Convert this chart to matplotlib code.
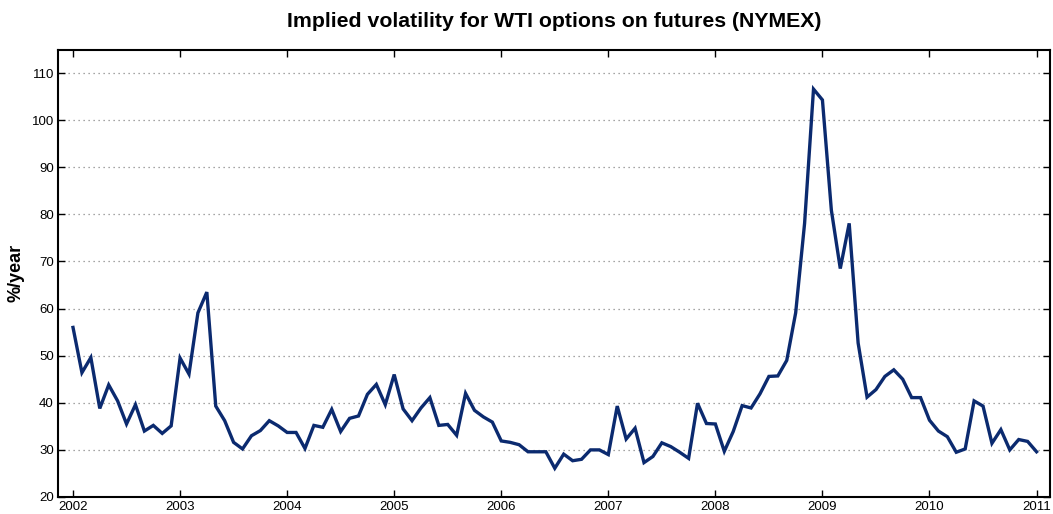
import matplotlib
matplotlib.use("Agg")
import matplotlib.pyplot as plt
import numpy as np

# monthly implied volatility, Jan 2002 .. Jan 2011 (%/year)
vol_2002 = [56.0, 46.4, 49.6, 38.8, 43.8, 40.4, 35.5, 39.6, 34.0, 35.2, 33.5, 35.1]
vol_2003 = [49.5, 46.1, 59.1, 63.5, 39.3, 36.2, 31.6, 30.2, 33.0, 34.1, 36.2, 35.1]
vol_2004 = [33.7, 33.7, 30.3, 35.2, 34.8, 38.6, 33.9, 36.7, 37.2, 41.8, 43.9, 39.6]
vol_2005 = [46.0, 38.7, 36.2, 38.9, 41.1, 35.2, 35.4, 33.1, 42.0, 38.4, 37.0, 35.9]
vol_2006 = [31.9, 31.6, 31.1, 29.6, 29.6, 29.6, 26.1, 29.1, 27.7, 28.0, 30.0, 30.0]
vol_2007 = [29.0, 39.3, 32.3, 34.6, 27.3, 28.6, 31.5, 30.7, 29.5, 28.2, 39.9, 35.6]
vol_2008 = [35.5, 29.7, 33.9, 39.4, 38.9, 41.9, 45.6, 45.7, 49.0, 59.1, 78.1, 106.6]
vol_2009 = [104.3, 80.9, 68.5, 78.1, 52.7, 41.2, 42.8, 45.6, 47.0, 45.0, 41.1, 41.1]
vol_2010 = [36.3, 34.0, 32.8, 29.5, 30.2, 40.4, 39.3, 31.4, 34.3, 30.0, 32.2, 31.8]
vol_2011 = [29.6]

vol = vol_2002 + vol_2003 + vol_2004 + vol_2005 + vol_2006 + vol_2007 + vol_2008 + vol_2009 + vol_2010 + vol_2011
t = 2002 + np.arange(len(vol)) / 12.0

years = list(range(2002, 2012))
yticks = list(range(20, 111, 10))

plt.rcParams["font.family"] = ["Liberation Sans", "DejaVu Sans"]

fig = plt.figure(figsize=(10.53, 5.14), dpi=100)
ax = fig.add_axes([0.0551, 0.0331, 0.9425, 0.8705])

ax.plot(t, vol, color="#0b2a6f", linewidth=2.4, solid_joinstyle="miter")

ax.set_xlim(2001.86, 2011.13)
ax.set_ylim(20, 115)
ax.set_xticks(years)
ax.set_yticks(yticks)
ax.tick_params(direction="in", length=5, width=1, labelsize=9.5,
               top=True, right=True, pad=3, colors="black")
ax.grid(axis="y", linestyle=(0, (1, 3)), color="#888888", linewidth=0.9)
for s in ax.spines.values():
    s.set_linewidth(1.5)
    s.set_color("black")

ax.set_ylabel("%/year", fontsize=13, fontweight="bold", labelpad=5)
ax.set_title("Implied volatility for WTI options on futures (NYMEX)",
             fontsize=15.3, fontweight="bold", pad=16)

fig.savefig("out.png", dpi=100)
